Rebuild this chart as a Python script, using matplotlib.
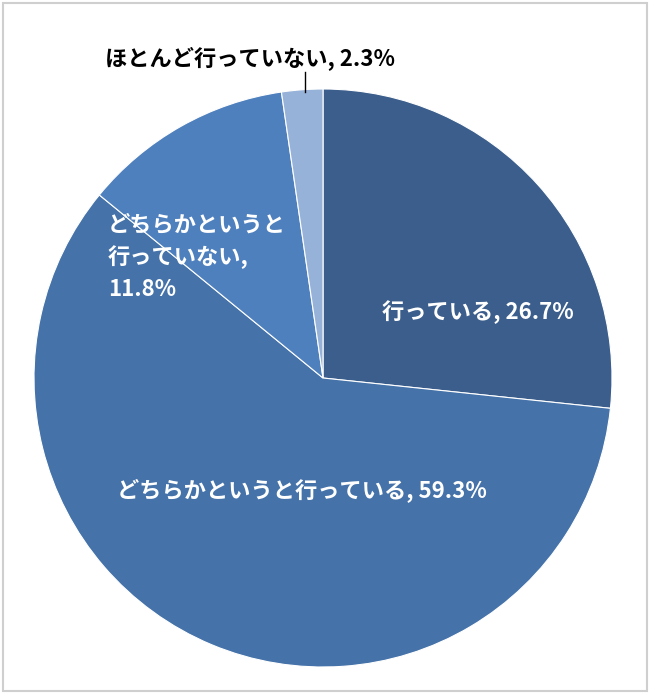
import matplotlib
matplotlib.use("Agg")
import matplotlib.pyplot as plt
from matplotlib.patches import Rectangle

plt.rcParams['font.family'] = ['Noto Sans CJK JP', 'DejaVu Sans']

labels = ["行っている", "どちらかというと行っている", "どちらかというと行っていない", "ほとんど行っていない"]
values = [26.7, 59.3, 11.8, 2.3]
colors = ["#3B5E8C", "#4472A9", "#4F80BE", "#97B2D8"]

W, H = 650, 694
fig = plt.figure(figsize=(W / 100, H / 100), dpi=100)
fig.patches.append(Rectangle((0.004, 0.004), 0.992, 0.992, transform=fig.transFigure,
                             fill=False, edgecolor="#cfcfcf", linewidth=1.5))

cx, cy, r = 323, 378, 289
ax = fig.add_axes([(cx - r) / W, 1 - (cy + r) / H, 2 * r / W, 2 * r / H])
ax.pie(values, colors=colors, startangle=90, counterclock=False,
       wedgeprops=dict(edgecolor="white", linewidth=0.8))
ax.set_aspect("auto")
ax.set_xlim(-1, 1)
ax.set_ylim(-1, 1)

def px(x, y):
    return x / W, 1 - y / H

fs = 16
kw = dict(color="white", fontsize=fs, fontweight="bold")
fig.text(*px(478, 312), f"{labels[0]}, {values[0]}%", ha="center", va="center", **kw)
fig.text(*px(302, 490), f"{labels[1]}, {values[1]}%", ha="center", va="center", **kw)
fig.text(*px(108, 257), "どちらかというと\n行っていない,\n" + f"{values[2]}%", ha="left", va="center",
         linespacing=1.5, **kw)
fig.text(*px(250, 58), f"{labels[3]}, {values[3]}%", ha="center", va="center",
         color="black", fontsize=fs, fontweight="bold")
fig.add_artist(plt.Line2D([305 / W, 305 / W], [1 - 72 / H, 1 - 92 / H], color="black", linewidth=1))

fig.savefig("out.png", dpi=100)
